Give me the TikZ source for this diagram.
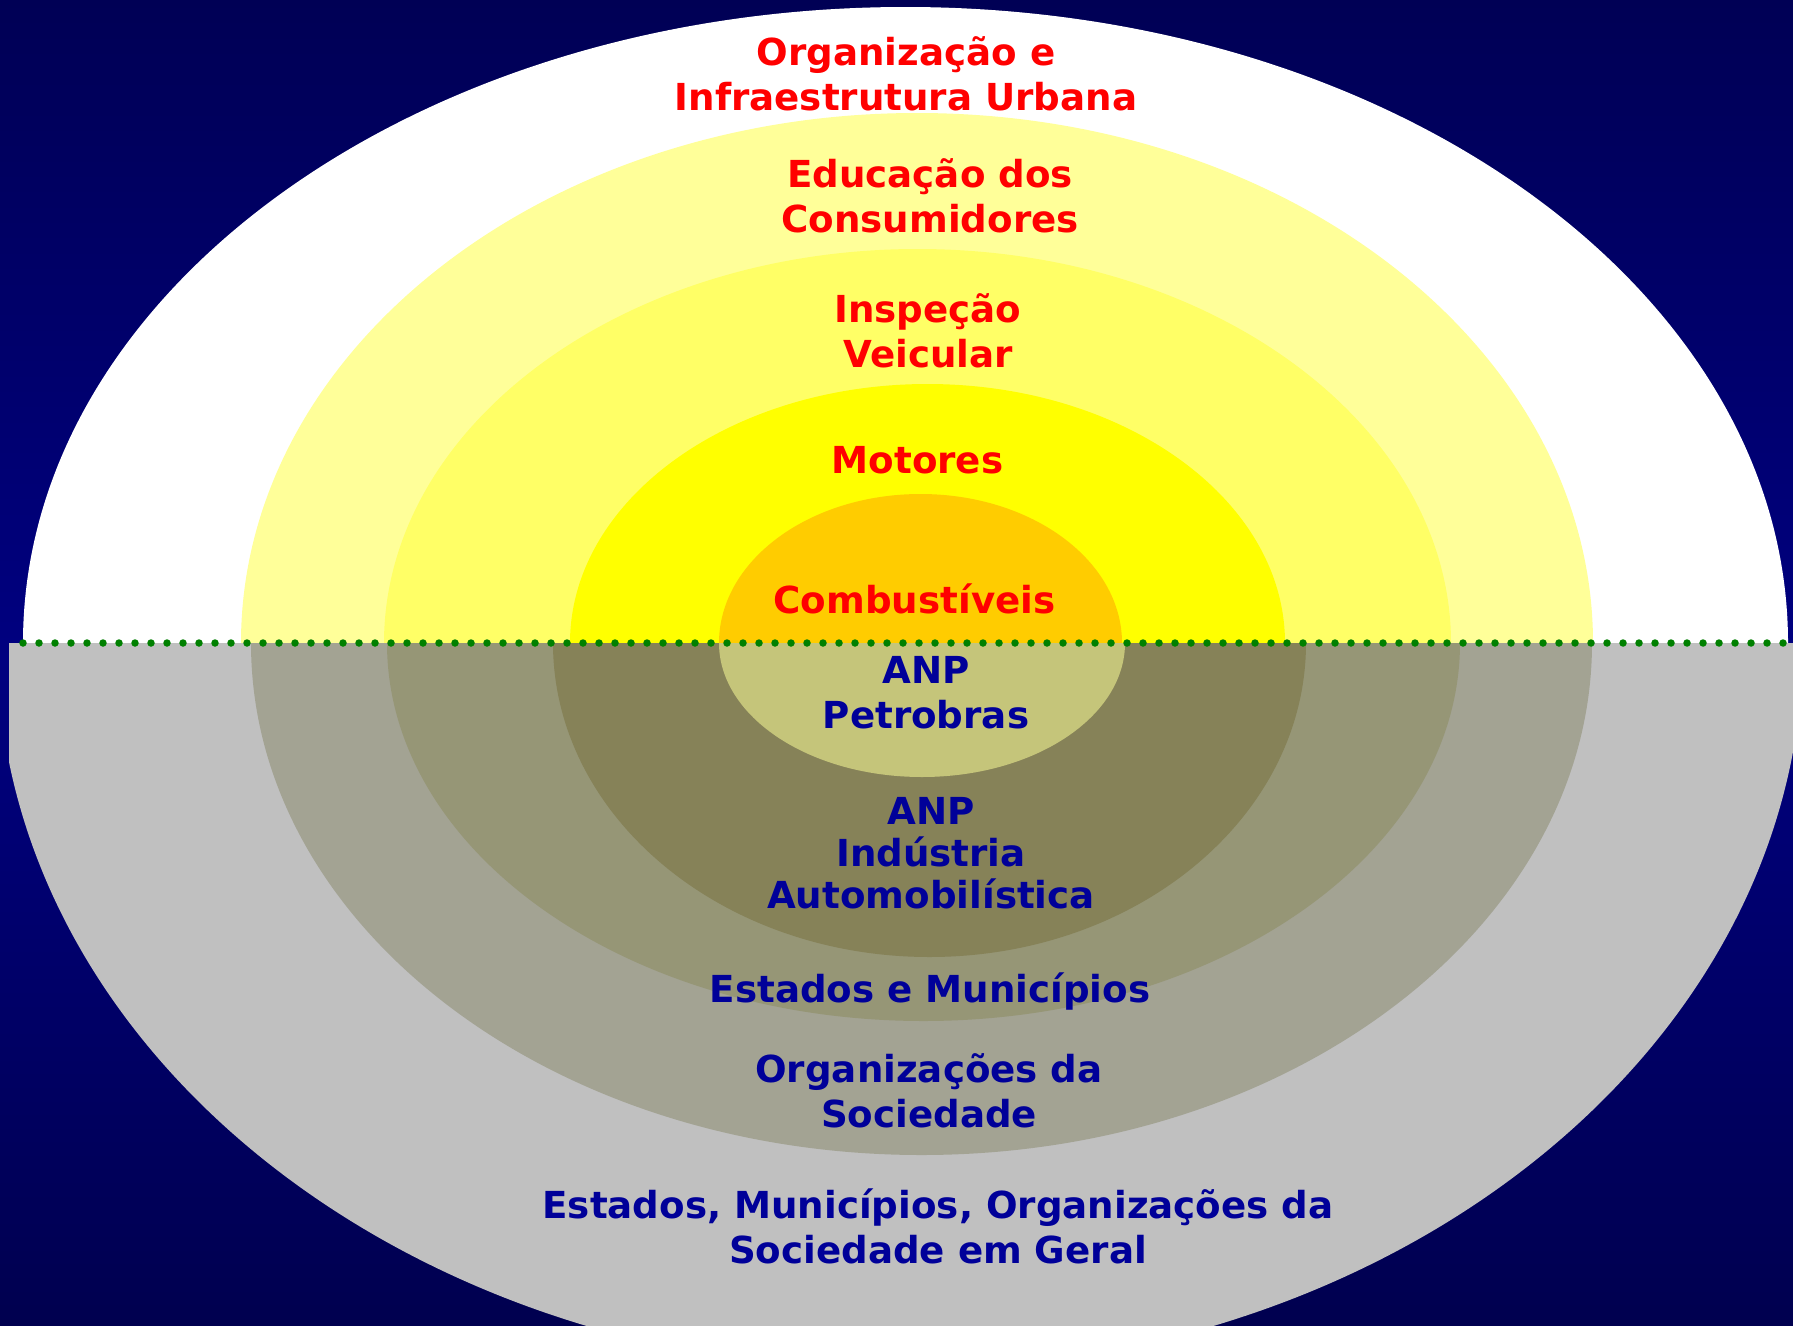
\documentclass[tikz,border=0pt]{standalone}
\usepackage{fontspec}
\setmainfont{DejaVu Sans}
\usepackage{tikz}
\usetikzlibrary{positioning}

\definecolor{bgtop}{HTML}{000055}
\definecolor{bgmid}{HTML}{000080}
\definecolor{bgbot}{HTML}{00004F}
\definecolor{ringA}{HTML}{FFFF99}
\definecolor{ringB}{HTML}{FFFF66}
\definecolor{ringC}{HTML}{FFFF00}
\definecolor{ringD}{HTML}{FFCC00}
\definecolor{grayA}{HTML}{C0C0C0}
\definecolor{grayB}{HTML}{A3A393}
\definecolor{grayC}{HTML}{969676}
\definecolor{grayD}{HTML}{868258}
\definecolor{grayE}{HTML}{C5C57A}
\definecolor{txtred}{HTML}{FF0000}
\definecolor{txtblue}{HTML}{000099}
\definecolor{dotgreen}{HTML}{008000}

\begin{document}
\begin{tikzpicture}[x=1pt, y=-1pt,
		every label/.style={inner sep=0pt, anchor=base, align=center,
			font=\fontsize{37.2}{44.5}\selectfont\bfseries},
		label top/.style={every label, text=txtred},
		label bottom/.style={every label, text=txtblue}]

		\useasboundingbox (0,0) rectangle (1793,1325);

		% Background
		\shade [top color=bgtop, bottom color=bgmid] (0,0) rectangle (1793,660);
		\shade [top color=bgmid, bottom color=bgbot] (0,660) rectangle (1793,1325);

		% Upper half
		\begin{scope}
			\clip (0,0) rectangle (1793,643);
			\foreach \col/\cx/\a/\b in {white/905.5/882.5/636, ringA/917/676/530,
					ringB/917.5/533.5/394, ringC/927.5/357.5/259, ringD/920.5/201.5/149}
				\fill [\col] (\cx,643) ellipse [x radius=\a pt, y radius=\b pt];
		\end{scope}

		% Lower half
		\begin{scope}
			\clip (9,643) rectangle (1793,1325);
			\foreach \col/\cx/\a/\b in {grayA/900/903/728, grayB/921.5/670.5/512,
					grayC/923.5/536.5/378, grayD/929.5/376.5/314, grayE/922/203/134}
				\fill [\col] (\cx,643) ellipse [x radius=\a pt, y radius=\b pt];
		\end{scope}

		% Divider
		\draw [dotgreen, line width=7.5pt, line cap=round, dash pattern=on 0pt off 16pt]
			(23,643) -- (1790,643);

		% Top labels (anchored at the last line)
		\node [label top] (urbana) at (906,110) {Organização e\\Infraestrutura Urbana};
		\node [label top] (educacao) at (930,232) {Educação dos\\Consumidores};
		\node [label top] (inspecao) at (928,367) {Inspeção\\Veicular};
		\node [label top] (motores) at (917.5,473) {Motores};
		\node [label top] (combust) at (914.5,613) {Combustíveis};

		% Bottom labels
		\node [label bottom] (petrobras) at (926,728) {ANP\\Petrobras};
		\node [label bottom, font=\fontsize{37.2}{42}\selectfont\bfseries] (industria)
			at (931,908) {ANP\\Indústria\\Automobilística};
		\node [label bottom] (estados) at (930,1002) {Estados e Municípios};
		\node [label bottom] (orgsoc) at (929,1127) {Organizações da\\Sociedade};
		\node [label bottom] (geral) at (938,1263)
			{Estados, Municípios, Organizações da\\Sociedade em Geral};

	\end{tikzpicture}
\end{document}
